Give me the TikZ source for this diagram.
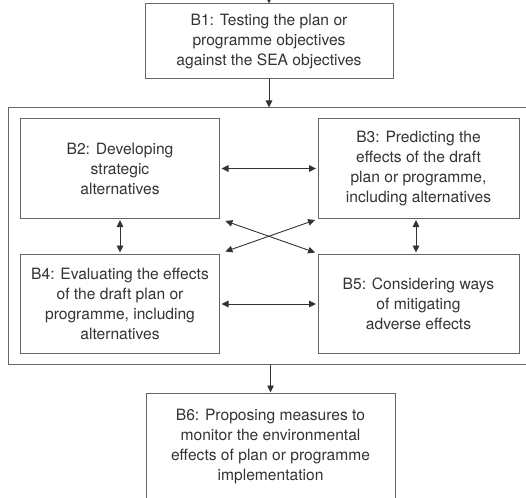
\documentclass[tikz,border=0pt]{standalone}
\usepackage{fontspec}
\setmainfont{TeX Gyre Heros}
\usetikzlibrary{arrows.meta}

\begin{document}
\begin{tikzpicture}%
	[x=1pt, y=-1pt,
	every node/.style={font=\fontsize{15.6}{20}\selectfont, text=black!80},
	step box/.style={draw=black!60, line width=1pt, align=center, inner sep=0pt, minimum width=199pt, minimum height=99pt},
	frame/.style={draw=black!60, line width=1pt, inner sep=0pt, minimum width=522pt, minimum height=256pt},
	link/.style={draw=black!80, line width=0.9pt, -{Triangle[length=7pt,width=6.5pt]}},
	twoway/.style={draw=black!80, line width=0.9pt, {Triangle[length=7pt,width=6.5pt]}-{Triangle[length=7pt,width=6.5pt]}, shorten <=1.5pt, shorten >=1.5pt}]
	%
	\useasboundingbox (0,0) rectangle (526,497);
	\clip (0,0) rectangle (526,497);
	%
	%% the stages
	%%
	\coordinate (in) at (269,-10);
	\node[step box, minimum width=248pt, minimum height=75pt] (b1) at (269,41.5)
		{B1: Testing the plan or\\ programme objectives\\ against the SEA objectives};
	\node[frame] (stage) at (269,236) {};
	\node[step box] (b2) at (120,168.5)
		{B2: Developing\\ strategic\\ alternatives};
	\node[step box, minimum width=201pt] (b3) at (418.5,168.5)
		{B3: Predicting the\\ effects of the draft\\ plan or programme,\\ including alternatives};
	\node[step box] (b4) at (120,304)
		{B4: Evaluating the effects\\ of the draft plan or\\ programme, including\\ alternatives};
	\node[step box, minimum width=201pt] (b5) at (418.5,304)
		{B5: Considering ways\\ of mitigating\\ adverse effects};
	\node[step box, minimum width=249pt, minimum height=107pt] (b6) at (270.5,446.5)
		{B6: Proposing measures to\\ monitor the environmental\\ effects of plan or programme\\ implementation};
	%%
	%% the links
	%%
	\draw[link] (in) -- (b1.north);
	\draw[link] (b1.south) -- (stage.north);
	\draw[link] (stage.south -| b6.north) -- (b6.north);
	%
	\draw[twoway] (b2) -- (b3);
	\draw[twoway] (b4) -- (b5);
	\draw[twoway] (b2) -- (b4);
	\draw[twoway] (b3.south -| 416,0) -- (b5.north -| 416,0);
	\draw[twoway] ([xshift=4pt,yshift=-2pt]b2.south east) -- ([xshift=-1pt,yshift=1pt]b5.north west);
	\draw[twoway] ([xshift=-1pt,yshift=-1pt]b3.south west) -- ([xshift=4pt,yshift=2pt]b4.north east);
\end{tikzpicture}
\end{document}
